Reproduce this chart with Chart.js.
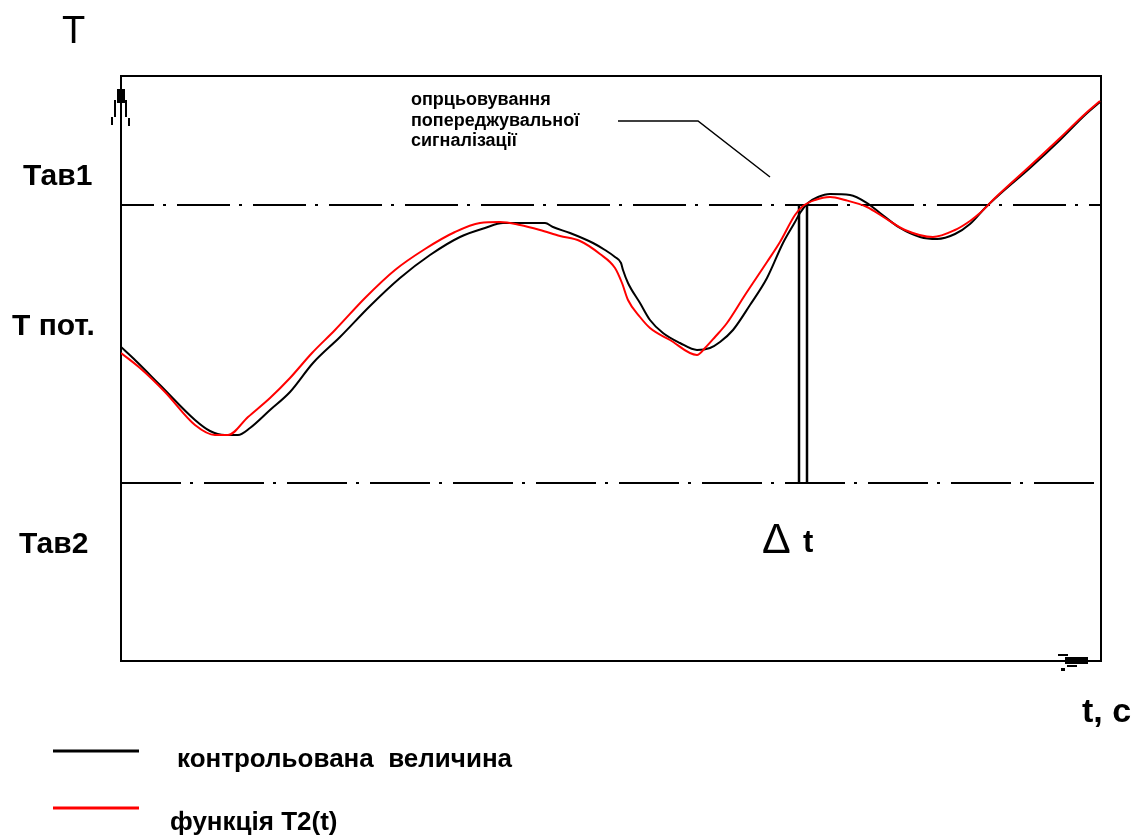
<!DOCTYPE html>
<html>
<head>
<meta charset="utf-8">
<script src="https://cdn.jsdelivr.net/npm/chart.js"></script>
<style>
  html, body { margin: 0; padding: 0; background: #fff; }
</style>
</head>
<body>
<canvas id="chart" width="1142" height="837"></canvas>
<script>
// контрольована величина (чорна)
const tControl = [0, 14, 39, 74, 89, 104, 117, 129, 149, 169, 192, 219, 249, 279, 309, 339, 364, 382, 424, 432, 449, 472, 484, 494, 500, 502, 507, 519, 529, 542, 559, 576, 589, 599, 612, 629, 646, 662, 674, 679, 687, 697, 709, 729, 746, 759, 779, 799, 816, 834, 849, 864, 879, 909, 939, 964, 979];
const tempControl = [314, 301, 276, 241, 230, 226, 226, 233, 251, 269, 298, 324, 355, 383, 406, 424, 433, 438, 438, 434, 428, 418, 411, 404, 398, 391, 378, 358, 341, 328, 318, 311, 313, 319, 331, 356, 383, 418, 439, 448, 458, 464, 467, 466, 458, 448, 433, 424, 422, 427, 437, 453, 467, 493, 521, 546, 559];

// функція T2(t) (червона)
const tFunc = [0, 19, 44, 74, 94, 107, 127, 149, 169, 191, 214, 244, 274, 304, 334, 359, 379, 399, 419, 439, 459, 479, 494, 501, 507, 519, 529, 549, 576, 584, 594, 606, 624, 646, 659, 674, 682, 694, 709, 724, 746, 764, 784, 812, 834, 849, 859, 874, 909, 939, 964, 979];
const tempFunc = [308, 293, 269, 236, 226, 226, 244, 263, 283, 308, 331, 363, 391, 412, 429, 438, 439, 436, 431, 425, 420, 407, 393, 378, 361, 344, 333, 321, 306, 313, 324, 338, 366, 399, 419, 446, 455, 461, 464, 461, 454, 443, 431, 424, 431, 440, 448, 463, 495, 523, 547, 560];

// рівні аварійної сигналізації
const levelAv1 = 456;
const levelAv2 = 178;
// момент спрацювання сигналізації (дві вертикалі, Δt)
const tSignal = [678, 686];
// виноска до підпису
const leaderT = [497, 577, 649];
const leaderTemp = [540, 540, 484];

const annotationLines = ['опрцьовування', 'попереджувальної', 'сигналізації'];
const legendNames = ['контрольована  величина', 'функція T2(t)'];

const BLACK = '#000000';
const RED = '#ff0000';

const pts = (xs, ys) => xs.map((x, i) => ({ x, y: ys[i] }));
const hLine = (y) => [{ x: 0, y }, { x: 980, y }];
const vLine = (x) => [{ x, y: levelAv2 }, { x, y: levelAv1 }];

const frame = {
  id: 'frame',
  beforeDatasetsDraw(chart) {
    const { ctx, chartArea: a } = chart;
    ctx.save();
    ctx.strokeStyle = BLACK;
    ctx.lineWidth = 2;
    ctx.strokeRect(a.left, a.top, a.right - a.left, a.bottom - a.top);
    // стрілка осі T
    ctx.fillStyle = BLACK;
    ctx.fillRect(a.left - 4, a.top + 13, 8, 14);
    ctx.lineWidth = 2;
    ctx.beginPath();
    ctx.moveTo(a.left - 6, a.top + 24); ctx.lineTo(a.left - 6, a.top + 41);
    ctx.moveTo(a.left + 5, a.top + 24); ctx.lineTo(a.left + 5, a.top + 41);
    ctx.moveTo(a.left - 9, a.top + 41); ctx.lineTo(a.left - 9, a.top + 49);
    ctx.moveTo(a.left + 8, a.top + 42); ctx.lineTo(a.left + 8, a.top + 50);
    ctx.stroke();
    // стрілка осі t
    ctx.fillRect(a.right - 36, a.bottom - 4, 23, 7);
    ctx.fillRect(a.right - 43, a.bottom - 7, 10, 2);
    ctx.fillRect(a.right - 34, a.bottom + 4, 10, 2);
    ctx.fillRect(a.right - 40, a.bottom + 7, 4, 3);
    ctx.restore();
  },
  afterDraw(chart) {
    const { ctx, chartArea: a, scales } = chart;
    const y1 = scales.y.getPixelForValue(levelAv1);
    const y2 = scales.y.getPixelForValue(levelAv2);
    ctx.save();
    ctx.fillStyle = BLACK;
    ctx.textBaseline = 'alphabetic';
    ctx.textAlign = 'left';

    ctx.font = '38px "Liberation Sans", Arial, sans-serif';
    ctx.fillText('T', 62, 43);

    ctx.font = 'bold 30px "Liberation Sans", Arial, sans-serif';
    ctx.fillText('Тав1', 23, y1 - 20);
    ctx.fillText('Т пот.', 12, 335);
    ctx.fillText('Тав2', 19, y2 + 70);

    ctx.font = 'bold 34px "Liberation Sans", Arial, sans-serif';
    ctx.fillText('t, c', 1082, 722);

    const xs = scales.x.getPixelForValue(tSignal[0]);
    ctx.font = '43px "Liberation Sans", Arial, sans-serif';
    ctx.fillText('Δ', xs - 37, 553);
    ctx.font = 'bold 31px "Liberation Sans", Arial, sans-serif';
    ctx.fillText('t', xs + 4, 552);

    ctx.font = 'bold 18px "Liberation Sans", Arial, sans-serif';
    annotationLines.forEach((s, i) => ctx.fillText(s, 411, 105 + i * 20.5));

    // легенда
    const colors = [BLACK, RED];
    const lx = [177, 170];
    const ly = [751, 808];
    const tb = [767, 830];
    ctx.font = 'bold 26px "Liberation Sans", Arial, sans-serif';
    legendNames.forEach((name, i) => {
      ctx.strokeStyle = colors[i];
      ctx.lineWidth = 3;
      ctx.beginPath();
      ctx.moveTo(53, ly[i]);
      ctx.lineTo(139, ly[i]);
      ctx.stroke();
      ctx.fillText(name, lx[i], tb[i]);
    });
    ctx.restore();
  }
};

new Chart(document.getElementById('chart'), {
  type: 'line',
  data: {
    datasets: [
      { label: legendNames[1], data: pts(tFunc, tempFunc), borderColor: RED, borderWidth: 2, pointRadius: 0, cubicInterpolationMode: 'monotone' },
      { label: legendNames[0], data: pts(tControl, tempControl), borderColor: BLACK, borderWidth: 2, pointRadius: 0, cubicInterpolationMode: 'monotone' },
      { label: 'Тав1', data: hLine(levelAv1), borderColor: BLACK, borderWidth: 2, pointRadius: 0, borderDash: [53, 9, 3, 11], borderDashOffset: 20 },
      { label: 'Тав2', data: hLine(levelAv2), borderColor: BLACK, borderWidth: 2, pointRadius: 0, borderDash: [60, 9, 3, 11], borderDashOffset: 0 },
      { label: 's1', data: vLine(tSignal[0]), borderColor: BLACK, borderWidth: 2.5, pointRadius: 0 },
      { label: 's2', data: vLine(tSignal[1]), borderColor: BLACK, borderWidth: 2.5, pointRadius: 0 },
      { label: 'leader', data: pts(leaderT, leaderTemp), borderColor: BLACK, borderWidth: 1.5, pointRadius: 0 },
    ],
  },
  options: {
    responsive: false,
    animation: false,
    layout: { padding: { left: 121, top: 76, right: 41, bottom: 176 } },
    plugins: { legend: { display: false }, tooltip: { enabled: false } },
    scales: {
      x: { type: 'linear', min: 0, max: 980, display: false },
      y: { type: 'linear', min: 0, max: 585, display: false },
    },
  },
  plugins: [frame],
});
</script>
</body>
</html>
